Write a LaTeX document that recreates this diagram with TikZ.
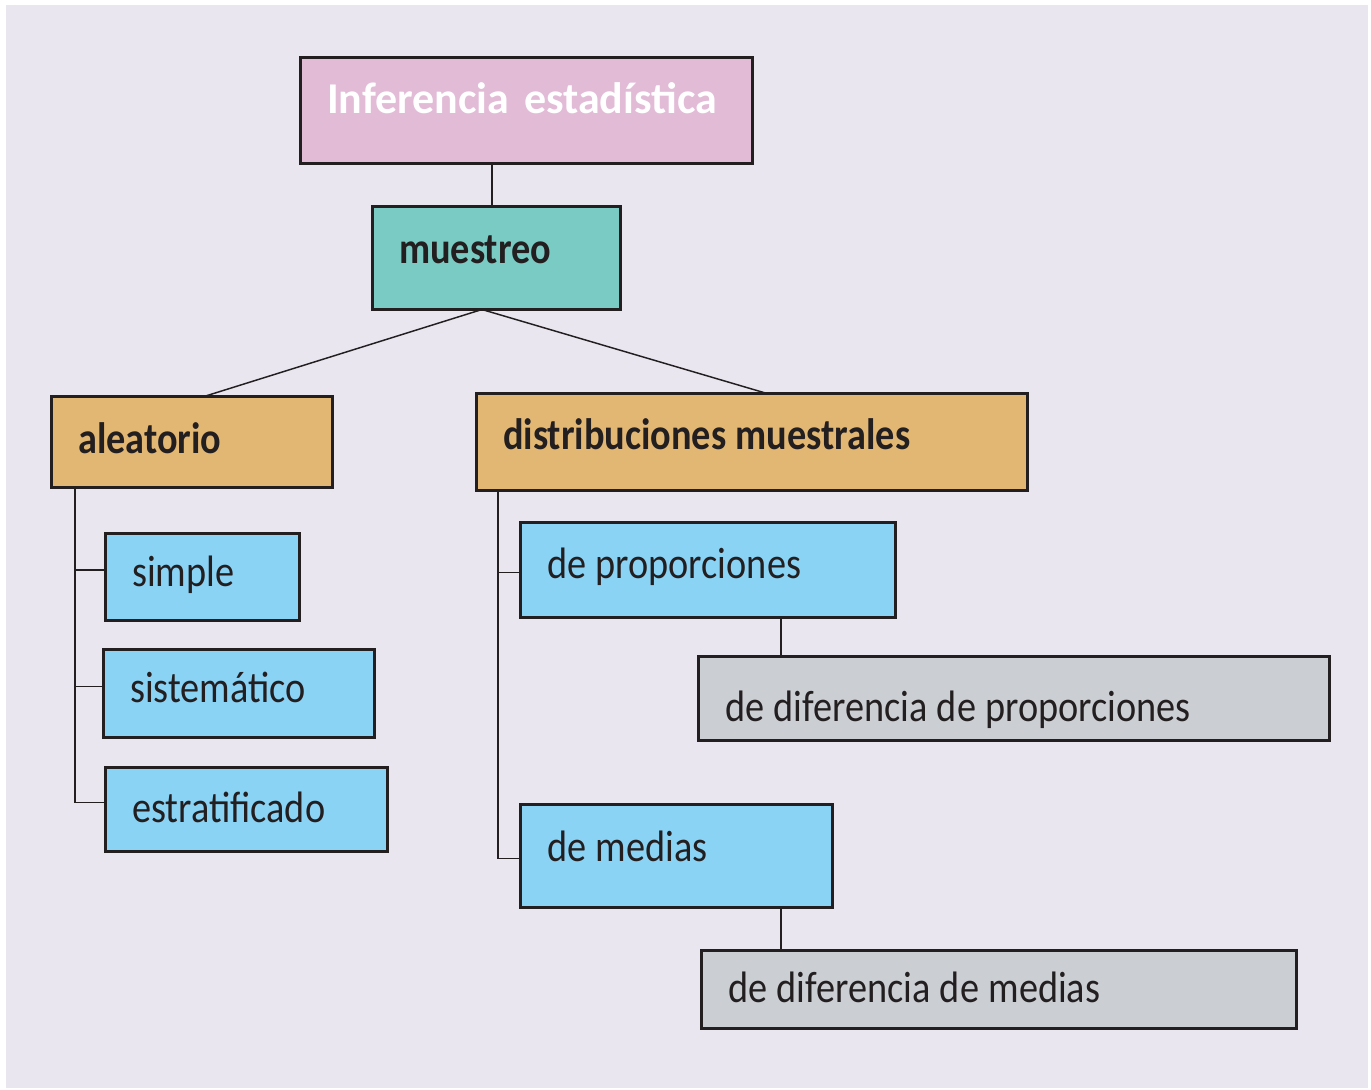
\documentclass[tikz,border=0pt]{standalone}
\usepackage{fontspec}
\setmainfont{Carlito}[FakeStretch=0.87]
\newfontfamily\titfont{Carlito}
\definecolor{fondo}{HTML}{E9E6F0}
\definecolor{borde}{HTML}{231F20}
\definecolor{rosa}{HTML}{E2BBD7}
\definecolor{turquesa}{HTML}{79CBC3}
\definecolor{naranja}{HTML}{E2B673}
\definecolor{celeste}{HTML}{8AD3F5}
\definecolor{gris}{HTML}{CBCED3}
\begin{document}
\begin{tikzpicture}[x=0.75pt,y=-0.75pt,
  bx/.style={draw=borde,line width=2.2pt,anchor=north west,outer sep=0pt,inner xsep=20pt,inner ysep=0pt,
    align=left,text depth=0pt,text=borde,font=\fontsize{33}{36}\selectfont,
    execute at begin node={\spaceskip=7pt plus 2pt minus 1pt}},
  tit/.style={bx,fill=rosa,text=white,font=\titfont\fontsize{33}{36}\selectfont\bfseries,
    execute at begin node={\spaceskip=11pt plus 2pt minus 1pt}},
  mst/.style={bx,fill=turquesa,font=\fontsize{33}{36}\selectfont\bfseries},
  tipo/.style={bx,fill=naranja,font=\fontsize{33}{36}\selectfont\bfseries},
  hoja/.style={bx,fill=celeste},
  dif/.style={bx,fill=gris},
  ln/.style={draw=borde,line width=1.1pt}]
  \useasboundingbox (0,0) rectangle (1371,1089);
  \fill[fondo] (6,5) rectangle (1368,1088);
  % cabecera
  \node[tit,text width=299pt,minimum height=79.5pt,text height=3.75pt] (inf) at (300.5,57.5){Inferencia estadística};
  \node[mst,text width=146pt,minimum height=77.25pt,text height=7.5pt] (mue) at (372.5,206.5){muestreo};
  \node[tipo,text width=170.75pt,minimum height=68.25pt,text height=16.5pt] (ale) at (51.5,396.5){aleatorio};
  \node[tipo,text width=373.25pt,minimum height=72.75pt,text height=10.5pt] (dis) at (476.5,393.5){distribuciones muestrales};
  % muestreo aleatorio
  \node[hoja,text width=105.5pt,minimum height=65.25pt,text height=13.5pt] (sim) at (105.5,533.5){simple};
  \node[hoja,text width=163.25pt,minimum height=66pt,text height=12.75pt] (sis) at (103.5,649.5){sistemático};
  \node[hoja,text width=171.5pt,minimum height=63pt,text height=18.75pt] (est) at (105.5,767.5){estratificado};
  % distribuciones
  \node[hoja,text width=241.25pt,minimum height=71.25pt,text height=12pt] (pro) at (520.5,522.5){de proporciones};
  \node[dif,text width=433.25pt,minimum height=63pt,text height=33.75pt] (dpr) at (698.5,656.5){de diferencia de proporciones};
  \node[hoja,text width=194pt,minimum height=77.25pt,text height=7.5pt] (med) at (520.5,804.5){de medias};
  \node[dif,text width=406.25pt,minimum height=58.5pt,text height=20pt] (dme) at (701.5,950.5){de diferencia de medias};
  % conectores
  \draw[ln] ([xshift=-26pt]inf.south) -- ([xshift=-26pt]inf.south |- mue.north);
  \coordinate (mueB) at ([xshift=-10.9pt]mue.south);
  \draw[ln] (mueB) -- ([xshift=9pt]ale.north);
  \draw[ln] (mueB) -- ([xshift=11.3pt]dis.north);
  \coordinate (aleT) at ([xshift=17.6pt]ale.south west);
  \foreach \n in {sim,sis,est}
    \draw[ln] (aleT) |- ([yshift=5.25pt]\n.west);
  \coordinate (disT) at ([xshift=16.1pt]dis.south west);
  \foreach \n in {pro,med}
    \draw[ln] (disT) |- ([yshift=-2pt]\n.west);
  \draw[ln] ([xshift=54.75pt]pro.south) -- ([xshift=54.75pt]pro.south |- dpr.north);
  \draw[ln] ([xshift=78.4pt]med.south) -- ([xshift=78.4pt]med.south |- dme.north);
\end{tikzpicture}
\end{document}
